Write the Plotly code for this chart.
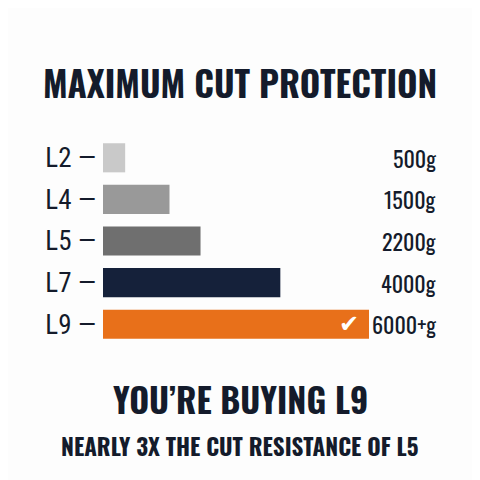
# Cut protection levels - horizontal bar chart
import plotly.graph_objects as go

# ----------------------------------------------------------------------------------------------------------------------
# Data
# ----------------------------------------------------------------------------------------------------------------------
levels = ['L2', 'L4', 'L5', 'L7', 'L9']
grams = [500, 1500, 2200, 4000, 6000]
value_labels = ['500g', '1500g', '2200g', '4000g', '6000+g']
bar_colors = ['#c9c9c9', '#999999', '#6f6f6f', '#15213a', '#e8701a']

title = 'MAXIMUM CUT PROTECTION'
headline = 'YOU\u2019RE BUYING L9'
subline = 'NEARLY 3X THE CUT RESISTANCE OF L5'

# ----------------------------------------------------------------------------------------------------------------------
# Style
# ----------------------------------------------------------------------------------------------------------------------
head_font = 'Oswald, Roboto Condensed, Open Sans Condensed, sans-serif'
value_font = 'Oswald, Roboto Condensed, Archivo Narrow, sans-serif'
level_font = 'Roboto Condensed, Oswald, Archivo Narrow, sans-serif'
text_color = '#141b2b'
bg_color = '#fdfdfd'
x_max = 6000 * 335 / 266
center_x = 232  # page center of the texts, in figure pixels

# ----------------------------------------------------------------------------------------------------------------------
# Figure
# ----------------------------------------------------------------------------------------------------------------------
fig = go.Figure()

fig.add_trace(go.Bar(x=grams, y=levels, orientation='h',
                     marker_color=bar_colors, marker_line_width=0,
                     hoverinfo='skip'))

# Value labels on the right
for lvl, lab in zip(levels, value_labels):
    fig.add_annotation(x=x_max, y=lvl, text=lab, xanchor='right', showarrow=False,
                       font=dict(family=value_font, size=22, weight=400, color=text_color))

# Check mark on the last bar
fig.add_annotation(x=grams[-1], y=levels[-1], text='\u2714', xanchor='right', xshift=-8,
                   showarrow=False, font=dict(family='DejaVu Sans', size=24, color='white'))

# Bottom texts
fig.add_annotation(x=(center_x - 95) / 335, y=-0.257, xref='paper', yref='paper', text=f'<b>{headline}</b>',
                   showarrow=False, yanchor='middle',
                   font=dict(family=head_font, size=34, color=text_color))
fig.add_annotation(x=(center_x - 95) / 335, y=-0.487, xref='paper', yref='paper', text=f'<b>{subline}</b>',
                   showarrow=False, yanchor='middle',
                   font=dict(family=head_font, size=23, color=text_color))

fig.update_layout(
    width=480, height=480,
    margin=dict(l=95, r=50, t=128.6, b=142.6),
    paper_bgcolor=bg_color, plot_bgcolor=bg_color,
    bargap=0.3, showlegend=False,
    title=dict(text=f'<b>{title}</b>', x=center_x / 480, xanchor='center', y=1 - 77.5 / 480, yanchor='middle',
               font=dict(family=head_font, size=35, color=text_color)),
)

fig.update_xaxes(range=[0, x_max], visible=False)
fig.update_yaxes(autorange='reversed', showgrid=False, zeroline=False, showline=False,
                 tickvals=levels, ticktext=[f'{l} \u2014' for l in levels], ticks='',
                 ticklabelstandoff=6,
                 tickfont=dict(family=level_font, size=27, color=text_color))

fig.write_html("out.html")
